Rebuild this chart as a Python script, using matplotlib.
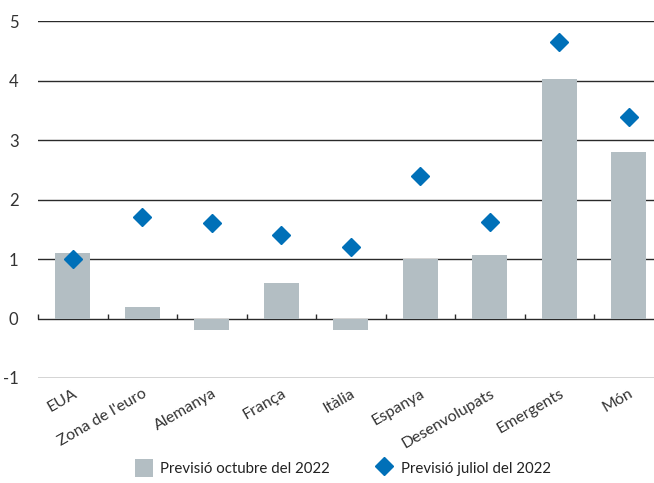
import matplotlib
matplotlib.use("Agg")
import matplotlib.pyplot as plt
import numpy as np
from matplotlib.lines import Line2D
from matplotlib.patches import Patch

categories = ["EUA", "Zona de l'euro", "Alemanya", "França", "Itàlia",
              "Espanya", "Desenvolupats", "Emergents", "Món"]
octubre_2022 = [1.1, 0.2, -0.2, 0.6, -0.2, 1.0, 1.07, 4.02, 2.8]
juliol_2022 = [1.0, 1.7, 1.6, 1.4, 1.2, 2.4, 1.62, 4.65, 3.38]
yticks = [-1, 0, 1, 2, 3, 4, 5]
labels_legend = ["Previsió octubre del 2022", "Previsió juliol del 2022"]

bar_color = "#b3bec3"
dia_color = "#0070b8"
line_color = "#2a2a2a"

plt.rcParams['font.family'] = ['Lato', 'DejaVu Sans']

fig = plt.figure(figsize=(6.54, 4.83), dpi=100)
ax = fig.add_axes([38/654, 1-378/483, 625.5/654, (378-21)/483])

x = np.arange(len(categories))
ax.bar(x, octubre_2022, width=0.5, color=bar_color, zorder=2)
ax.plot(x, juliol_2022, linestyle='none', marker='D', markersize=9,
        color=dia_color, zorder=3, clip_on=False)

ax.set_ylim(-1, 5)
ax.set_xlim(-0.5, len(categories) - 0.5)
ax.set_yticks(yticks)
ax.set_yticklabels([str(v) for v in yticks], fontsize=12, color="#333333")
for v in yticks:
    ax.axhline(v, color=line_color, lw=1.0, zorder=1)
# boundary ticks on zero line
bounds = np.arange(len(categories) + 1) - 0.5
ax.vlines(bounds, 0, 0.08, color=line_color, lw=1.0, zorder=1, clip_on=False)

ax.set_xticks(x)
ax.set_xticklabels(categories, rotation=30, ha='right', va='top',
                   rotation_mode='anchor', fontsize=11.5, color="#333333")
ax.tick_params(axis='both', length=0, pad=6)
ax.tick_params(axis='y', pad=14)
for s in ax.spines.values():
    s.set_visible(False)

handles = [Patch(facecolor=bar_color, edgecolor='none'),
           Line2D([], [], linestyle='none', marker='D', markersize=9, color=dia_color)]
fig.legend(handles, labels_legend, loc='center', bbox_to_anchor=(0.524, 1-468/483),
           ncol=2, frameon=False, fontsize=10.8, handlelength=1.2, handleheight=1.4,
           columnspacing=3.0, handletextpad=0.5, labelcolor="#222222")

fig.savefig("out.png", dpi=100)
